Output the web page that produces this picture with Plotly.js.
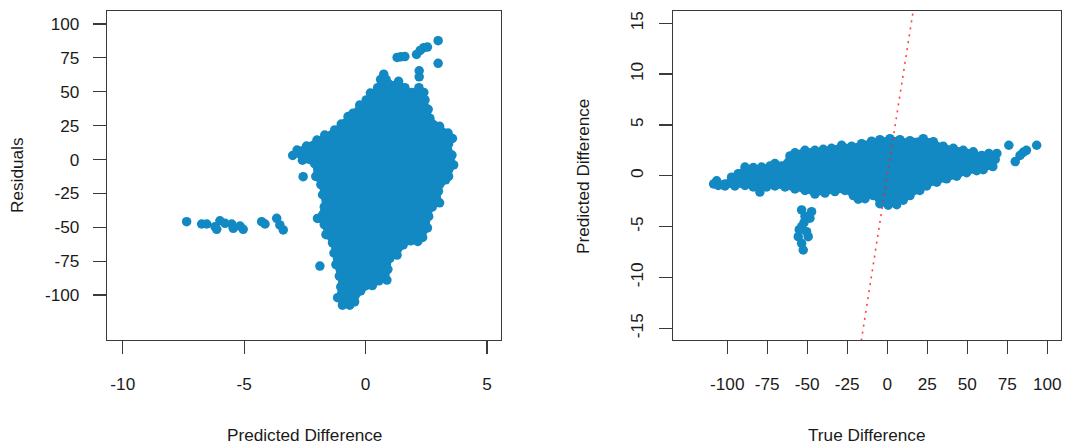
<!DOCTYPE html>
<html>
<head>
<meta charset="utf-8">
<script src="https://cdn.plot.ly/plotly-3.0.1.min.js"></script>
<style>
  html, body { margin: 0; padding: 0; background: #ffffff; }
  #chart { width: 1069px; height: 445px; }
</style>
</head>
<body>
<div id="chart"></div>
<script>
// ---- Residuals vs predicted difference (left panel) ----
// Points along the edge of the dense body, in order around it
const residBodyX = [-3.0, -2.82, -2.43, -2.0, -1.68, -1.27, -1.0, -0.72, -0.52, -0.24, 0.03, 0.2, 0.5, 0.62, 0.75,
  0.85, 0.98, 1.36, 1.62, 1.9, 2.2, 2.4, 2.45, 2.58, 2.65, 3.05, 3.4, 3.58, 3.42, 3.56, 3.63, 3.42, 3.3,
  3.0, 3.05, 2.75, 2.6, 2.55, 2.35, 2.15, 1.85, 1.55, 1.3, 1.0, 0.92, 0.88, 0.55, 0.28, -0.2, -0.45,
  -0.65, -0.95, -1.15, -1.02, -1.08, -1.22, -1.3, -1.36, -1.63, -1.7, -1.98, -1.7, -1.77, -1.84, -2.05,
  -2.1, -2.6];
const residBodyY = [3.0, 7, 9.9, 14.4, 18, 21.8, 26.2, 31.7, 34.1, 40.2, 44, 49, 53, 59, 63,
  59, 55.5, 57.7, 53, 49.5, 53, 49.5, 44, 37, 30.5, 24.5, 19.5, 15.5, 11.5, 3.3, -4, -12.5, -15,
  -23.5, -32, -35, -42, -50.5, -57.5, -60.5, -60, -63, -70.5, -73, -81, -89, -89.5, -93, -97, -105,
  -107.5, -107.5, -102, -94, -86, -77.5, -69, -61.5, -55.5, -48, -43.5, -35, -26, -18.5, -12.5,
  -3, -0.5];
// Isolated points away from the body
const residOutX = [2.99, 2.99, 2.1, 2.25, 2.4, 2.55, 1.3, 1.45, 1.62, 2.21, 2.21, -2.57, -1.88,
  -7.37, -6.75, -6.54, -6.2, -6.0, -6.13, -5.79, -5.51, -5.45, -5.17, -5.04, -4.28, -4.14, -3.66, -3.53, -3.39];
const residOutY = [87.7, 71, 77.5, 80.5, 82.5, 83, 75.3, 75.8, 76, 65.5, 61, -12.7, -78.6,
  -45.9, -47.6, -47.6, -49.6, -45.2, -51.5, -47.1, -47.6, -50.8, -49.1, -51.5, -45.9, -47.6, -43.4, -48.3, -52];

// ---- Predicted vs true difference (right panel) ----
const predBodyX = [-108.5, -106.6, -101.4, -97.3, -93.1, -88.9, -83.7, -78.5, -73.3, -70.2, -66, -60.8,
  -57.7, -51.4, -45.2, -40, -34.8, -28.5, -22.3, -16, -9.8, -4.6, 1.7, 7.9, 14.2, 22.5, 28.8, 35, 41.3,
  47.5, 53.8, 59, 64.2, 67.5, 66, 60, 55.9, 49.6, 43.4, 37.1, 30.9, 24.6, 20.4, 14.2, 10, 5.9, 0.6,
  -4.6, -8.7, -13.9, -18.1, -21.2, -26.4, -32.7, -38.9, -45.2, -51.4, -57.7, -63.9, -70.2, -75.4,
  -79.6, -83.7, -88.9, -95.2, -101.4, -105.6];
const predBodyY = [-0.8, -0.5, -0.8, -0.14, 0.2, 0.85, 0.8, 0.85, 0.95, 1.2, 0.95, 1.95,
  2.25, 2.5, 2.5, 2.6, 2.7, 3.0, 2.9, 3.15, 3.4, 3.55, 3.65, 3.55, 3.45, 3.65, 3.35, 2.9, 2.7,
  2.5, 2.35, 2.0, 1.9, 1.6, 0.9, 0.6, 0.5, 0.3, -0.05, -0.3, -0.63, -1.0, -1.45, -1.95, -2.4, -2.85, -2.9,
  -2.75, -1.95, -2.25, -2.3, -1.95, -1.45, -1.55, -1.7, -1.8, -1.45, -1.3, -1.1, -1.0, -1.1,
  -1.6, -1.1, -0.95, -1.0, -1.0, -0.95];
const predOutX = [76, 93.4, 87, 85, 83, 80, 63.5, 68.5,
  -53.5, -47.3, -48.3, -51.4, -53.5, -50.4, -55.6, -49.4, -53.5, -52.5, -55, -52];
const predOutY = [3.0, 3.0, 2.5, 2.3, 2.0, 1.4, 2.2, 2.2,
  -3.36, -3.53, -4.18, -4.0, -5.0, -5.5, -5.99, -5.99, -6.64, -7.3, -5.3, -4.6];

// Reference line y = x
const identityX = [-40, 40];
const identityY = [-40, 40];

// Tick values
const residXTicks = [-10, -5, 0, 5];
const residYTicks = [-100, -75, -50, -25, 0, 25, 50, 75, 100];
const trueXTicks = [-100, -75, -50, -25, 0, 25, 50, 75, 100];
const predYTicks = [-15, -10, -5, 0, 5, 10, 15];
const label = v => String(v);

const dotColor = '#1289C2';
const axisColor = '#3a3a3a';
const fontFamily = '"Liberation Sans", Arial, Helvetica, sans-serif';
const fontSize = 17.2;

// Dense body: filled outline plus a dot on every edge point
function body(x, y, xa, ya) {
  return {
    type: 'scatter', x: x, y: y, xaxis: xa, yaxis: ya,
    mode: 'lines+markers', fill: 'toself', fillcolor: dotColor,
    line: { color: dotColor, width: 4 },
    marker: { color: dotColor, size: 9.5, line: { width: 0 } },
    hoverinfo: 'skip'
  };
}
function points(x, y, xa, ya) {
  return {
    type: 'scatter', x: x, y: y, xaxis: xa, yaxis: ya,
    mode: 'markers', marker: { color: dotColor, size: 9.5, line: { width: 0 } },
    hoverinfo: 'skip'
  };
}

const data = [
  body(residBodyX, residBodyY, 'x', 'y'),
  points(residOutX, residOutY, 'x', 'y'),
  body(predBodyX, predBodyY, 'x2', 'y2'),
  points(predOutX, predOutY, 'x2', 'y2'),
  {
    type: 'scatter', x: identityX, y: identityY, xaxis: 'x2', yaxis: 'y2',
    mode: 'lines', line: { color: 'rgba(255,30,30,0.85)', width: 1.6, dash: '2px,5px' },
    hoverinfo: 'skip'
  }
];

const axisBase = {
  showgrid: false, zeroline: false, showline: true, mirror: true,
  linecolor: axisColor, linewidth: 1.2,
  ticks: 'outside', ticklen: 13, tickwidth: 1.2, tickcolor: axisColor,
  tickfont: { family: fontFamily, size: fontSize, color: '#1a1a1a' },
  tickmode: 'array', fixedrange: true
};
const yDomain = [1 - 340 / 445, 1 - 11 / 445];

const layout = {
  width: 1069, height: 445,
  margin: { l: 0, r: 0, t: 0, b: 0 },
  paper_bgcolor: '#ffffff', plot_bgcolor: '#ffffff',
  showlegend: false,
  font: { family: fontFamily, size: fontSize, color: '#1a1a1a' },
  xaxis: Object.assign({}, axisBase, {
    domain: [107 / 1069, 501 / 1069], range: [-10.65, 5.58], anchor: 'y',
    tickvals: residXTicks, ticktext: residXTicks.map(label), ticklabelstandoff: 15
  }),
  yaxis: Object.assign({}, axisBase, {
    domain: yDomain, range: [-133.2, 109.6], anchor: 'x',
    tickvals: residYTicks, ticktext: residYTicks.map(label), ticklabelstandoff: 10
  }),
  xaxis2: Object.assign({}, axisBase, {
    domain: [673 / 1069, 1061 / 1069], range: [-133.9, 108.6], anchor: 'y2',
    tickvals: trueXTicks, ticktext: trueXTicks.map(label), ticklabelstandoff: 15
  }),
  yaxis2: Object.assign({}, axisBase, {
    domain: yDomain, range: [-16.15, 16.2], anchor: 'x2',
    tickvals: predYTicks, ticktext: predYTicks.map(label), tickangle: -90, ticklabelstandoff: 9
  }),
  annotations: [
    { text: 'Predicted Difference', xref: 'paper', yref: 'paper', x: 304 / 1069, y: 1 - 435 / 445,
      xanchor: 'center', yanchor: 'middle', showarrow: false },
    { text: 'Residuals', xref: 'paper', yref: 'paper', x: 17 / 1069, y: 1 - 176 / 445,
      xanchor: 'center', yanchor: 'middle', textangle: -90, showarrow: false },
    { text: 'True Difference', xref: 'paper', yref: 'paper', x: 867 / 1069, y: 1 - 435 / 445,
      xanchor: 'center', yanchor: 'middle', showarrow: false },
    { text: 'Predicted Difference', xref: 'paper', yref: 'paper', x: 583 / 1069, y: 1 - 177 / 445,
      xanchor: 'center', yanchor: 'middle', textangle: -90, showarrow: false }
  ]
};

Plotly.newPlot('chart', data, layout, { staticPlot: true, displayModeBar: false });
</script>
</body>
</html>
